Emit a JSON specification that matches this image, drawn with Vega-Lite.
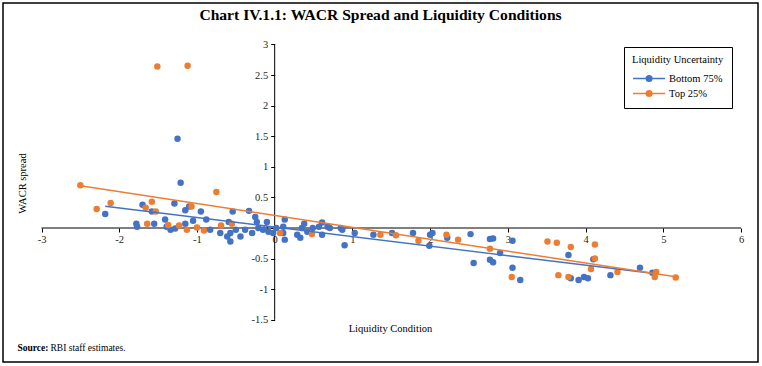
{
  "$schema": "https://vega.github.io/schema/vega-lite/v6.json",
  "width": 755,
  "height": 359,
  "autosize": {"type": "none"},
  "padding": {"left": 3, "top": 3, "right": 4, "bottom": 4},
  "background": "white",
  "title": {
    "text": "Chart IV.1.1: WACR Spread and Liquidity Conditions",
    "font": "Liberation Serif",
    "fontSize": 15.6,
    "fontWeight": "bold",
    "color": "#000",
    "anchor": "middle",
    "frame": "group",
    "offset": -21
  },
  "data": {
    "values": [
      {"series": "Bottom 75%", "lc": -2.18, "spread": 0.23},
      {"series": "Bottom 75%", "lc": -1.78, "spread": 0.07},
      {"series": "Bottom 75%", "lc": -1.77, "spread": 0.02},
      {"series": "Bottom 75%", "lc": -1.70, "spread": 0.38},
      {"series": "Bottom 75%", "lc": -1.58, "spread": 0.27},
      {"series": "Bottom 75%", "lc": -1.55, "spread": 0.07},
      {"series": "Bottom 75%", "lc": -1.41, "spread": 0.14},
      {"series": "Bottom 75%", "lc": -1.39, "spread": 0.02},
      {"series": "Bottom 75%", "lc": -1.34, "spread": -0.03},
      {"series": "Bottom 75%", "lc": -1.29, "spread": 0.40},
      {"series": "Bottom 75%", "lc": -1.28, "spread": -0.01},
      {"series": "Bottom 75%", "lc": -1.25, "spread": 1.46},
      {"series": "Bottom 75%", "lc": -1.21, "spread": 0.74},
      {"series": "Bottom 75%", "lc": -1.15, "spread": 0.29},
      {"series": "Bottom 75%", "lc": -1.15, "spread": 0.07},
      {"series": "Bottom 75%", "lc": -1.10, "spread": 0.35},
      {"series": "Bottom 75%", "lc": -1.05, "spread": 0.12},
      {"series": "Bottom 75%", "lc": -0.95, "spread": 0.27},
      {"series": "Bottom 75%", "lc": -0.88, "spread": 0.14},
      {"series": "Bottom 75%", "lc": -0.83, "spread": -0.03},
      {"series": "Bottom 75%", "lc": -0.70, "spread": -0.08},
      {"series": "Bottom 75%", "lc": -0.61, "spread": -0.14},
      {"series": "Bottom 75%", "lc": -0.59, "spread": 0.10},
      {"series": "Bottom 75%", "lc": -0.57, "spread": -0.22},
      {"series": "Bottom 75%", "lc": -0.57, "spread": -0.08},
      {"series": "Bottom 75%", "lc": -0.54, "spread": 0.27},
      {"series": "Bottom 75%", "lc": -0.50, "spread": -0.03},
      {"series": "Bottom 75%", "lc": -0.44, "spread": -0.14},
      {"series": "Bottom 75%", "lc": -0.38, "spread": -0.03},
      {"series": "Bottom 75%", "lc": -0.33, "spread": 0.28},
      {"series": "Bottom 75%", "lc": -0.29, "spread": -0.08},
      {"series": "Bottom 75%", "lc": -0.25, "spread": 0.18},
      {"series": "Bottom 75%", "lc": -0.23, "spread": 0.10},
      {"series": "Bottom 75%", "lc": -0.21, "spread": 0.0},
      {"series": "Bottom 75%", "lc": -0.15, "spread": -0.03},
      {"series": "Bottom 75%", "lc": -0.10, "spread": 0.10},
      {"series": "Bottom 75%", "lc": -0.08, "spread": -0.06},
      {"series": "Bottom 75%", "lc": -0.02, "spread": -0.08},
      {"series": "Bottom 75%", "lc": 0.02, "spread": 0.0},
      {"series": "Bottom 75%", "lc": 0.11, "spread": -0.08},
      {"series": "Bottom 75%", "lc": 0.11, "spread": 0.02},
      {"series": "Bottom 75%", "lc": 0.13, "spread": 0.14},
      {"series": "Bottom 75%", "lc": 0.13, "spread": -0.19},
      {"series": "Bottom 75%", "lc": 0.29, "spread": -0.11},
      {"series": "Bottom 75%", "lc": 0.33, "spread": -0.16},
      {"series": "Bottom 75%", "lc": 0.35, "spread": 0.0},
      {"series": "Bottom 75%", "lc": 0.38, "spread": 0.07},
      {"series": "Bottom 75%", "lc": 0.42, "spread": -0.06},
      {"series": "Bottom 75%", "lc": 0.49, "spread": 0.0},
      {"series": "Bottom 75%", "lc": 0.57, "spread": 0.02},
      {"series": "Bottom 75%", "lc": 0.61, "spread": 0.09},
      {"series": "Bottom 75%", "lc": 0.61, "spread": -0.11},
      {"series": "Bottom 75%", "lc": 0.68, "spread": 0.02},
      {"series": "Bottom 75%", "lc": 0.71, "spread": 0.0},
      {"series": "Bottom 75%", "lc": 0.85, "spread": 0.0},
      {"series": "Bottom 75%", "lc": 0.87, "spread": -0.03},
      {"series": "Bottom 75%", "lc": 0.90, "spread": -0.28},
      {"series": "Bottom 75%", "lc": 1.03, "spread": -0.08},
      {"series": "Bottom 75%", "lc": 1.27, "spread": -0.11},
      {"series": "Bottom 75%", "lc": 1.51, "spread": -0.08},
      {"series": "Bottom 75%", "lc": 1.78, "spread": -0.08},
      {"series": "Bottom 75%", "lc": 2.00, "spread": -0.11},
      {"series": "Bottom 75%", "lc": 2.03, "spread": -0.08},
      {"series": "Bottom 75%", "lc": 1.99, "spread": -0.29},
      {"series": "Bottom 75%", "lc": 2.22, "spread": -0.16},
      {"series": "Bottom 75%", "lc": 2.52, "spread": -0.10},
      {"series": "Bottom 75%", "lc": 2.56, "spread": -0.57},
      {"series": "Bottom 75%", "lc": 2.77, "spread": -0.18},
      {"series": "Bottom 75%", "lc": 2.81, "spread": -0.17},
      {"series": "Bottom 75%", "lc": 2.77, "spread": -0.52},
      {"series": "Bottom 75%", "lc": 2.81, "spread": -0.56},
      {"series": "Bottom 75%", "lc": 2.90, "spread": -0.41},
      {"series": "Bottom 75%", "lc": 3.06, "spread": -0.21},
      {"series": "Bottom 75%", "lc": 3.06, "spread": -0.65},
      {"series": "Bottom 75%", "lc": 3.16, "spread": -0.85},
      {"series": "Bottom 75%", "lc": 3.78, "spread": -0.44},
      {"series": "Bottom 75%", "lc": 3.81, "spread": -0.82},
      {"series": "Bottom 75%", "lc": 3.91, "spread": -0.85},
      {"series": "Bottom 75%", "lc": 3.98, "spread": -0.80},
      {"series": "Bottom 75%", "lc": 4.03, "spread": -0.82},
      {"series": "Bottom 75%", "lc": 4.10, "spread": -0.51},
      {"series": "Bottom 75%", "lc": 4.32, "spread": -0.77},
      {"series": "Bottom 75%", "lc": 4.70, "spread": -0.65},
      {"series": "Bottom 75%", "lc": 4.86, "spread": -0.73},
      {"series": "Top 25%", "lc": -2.50, "spread": 0.70},
      {"series": "Top 25%", "lc": -2.29, "spread": 0.31},
      {"series": "Top 25%", "lc": -2.11, "spread": 0.41},
      {"series": "Top 25%", "lc": -1.66, "spread": 0.33},
      {"series": "Top 25%", "lc": -1.64, "spread": 0.07},
      {"series": "Top 25%", "lc": -1.58, "spread": 0.43},
      {"series": "Top 25%", "lc": -1.53, "spread": 0.27},
      {"series": "Top 25%", "lc": -1.51, "spread": 2.64},
      {"series": "Top 25%", "lc": -1.37, "spread": 0.05},
      {"series": "Top 25%", "lc": -1.23, "spread": 0.04},
      {"series": "Top 25%", "lc": -1.13, "spread": -0.03},
      {"series": "Top 25%", "lc": -1.12, "spread": 2.65},
      {"series": "Top 25%", "lc": -1.07, "spread": 0.35},
      {"series": "Top 25%", "lc": -1.00, "spread": 0.01},
      {"series": "Top 25%", "lc": -0.91, "spread": -0.04},
      {"series": "Top 25%", "lc": -0.75, "spread": 0.59},
      {"series": "Top 25%", "lc": -0.69, "spread": 0.04},
      {"series": "Top 25%", "lc": -0.55, "spread": 0.07},
      {"series": "Top 25%", "lc": 0.07, "spread": -0.08},
      {"series": "Top 25%", "lc": 0.48, "spread": -0.10},
      {"series": "Top 25%", "lc": 1.36, "spread": -0.11},
      {"series": "Top 25%", "lc": 1.56, "spread": -0.12},
      {"series": "Top 25%", "lc": 1.85, "spread": -0.21},
      {"series": "Top 25%", "lc": 2.21, "spread": -0.11},
      {"series": "Top 25%", "lc": 2.36, "spread": -0.19},
      {"series": "Top 25%", "lc": 2.77, "spread": -0.34},
      {"series": "Top 25%", "lc": 3.05, "spread": -0.80},
      {"series": "Top 25%", "lc": 3.51, "spread": -0.22},
      {"series": "Top 25%", "lc": 3.63, "spread": -0.24},
      {"series": "Top 25%", "lc": 3.65, "spread": -0.77},
      {"series": "Top 25%", "lc": 3.78, "spread": -0.80},
      {"series": "Top 25%", "lc": 3.81, "spread": -0.31},
      {"series": "Top 25%", "lc": 4.07, "spread": -0.67},
      {"series": "Top 25%", "lc": 4.12, "spread": -0.27},
      {"series": "Top 25%", "lc": 4.12, "spread": -0.50},
      {"series": "Top 25%", "lc": 4.41, "spread": -0.72},
      {"series": "Top 25%", "lc": 4.89, "spread": -0.80},
      {"series": "Top 25%", "lc": 4.91, "spread": -0.72},
      {"series": "Top 25%", "lc": 5.16, "spread": -0.81}
    ]
  },
  "layer": [
    {
      "data": {"values": [{}]},
      "mark": {"type": "rule", "color": "#000", "strokeWidth": 1},
      "encoding": {
        "x": {
          "datum": -3, "type": "quantitative",
          "scale": {"domain": [-3.4954, 6.2187], "nice": false, "zero": false},
          "axis": {"orient": "top", "labels": false, "ticks": false, "domain": false, "grid": false,
            "title": "Source:", "titleFontWeight": "bold", "titleFontSize": 9.5, "titleColor": "#000",
            "titleX": 14, "titleY": 344, "titleAlign": "left", "titleBaseline": "middle", "titleAngle": 0}
        },
        "x2": {"datum": 6},
        "y": {
          "datum": 0, "type": "quantitative",
          "scale": {"domain": [-2.1895, 3.6765], "nice": false, "zero": false},
          "axis": {"orient": "right", "labels": false, "ticks": false, "domain": false, "grid": false,
            "title": "RBI staff estimates.", "titleFontWeight": "normal", "titleFontSize": 9.5, "titleColor": "#000",
            "titleX": -708, "titleY": 344, "titleAlign": "left", "titleBaseline": "middle", "titleAngle": 0}
        }
      }
    },
    {
      "data": {"values": [{}]},
      "mark": {"type": "rule", "color": "#000", "strokeWidth": 1},
      "encoding": {
        "x": {"datum": 0, "type": "quantitative", "scale": {"domain": [-3.4954, 6.2187], "nice": false, "zero": false}, "axis": null},
        "y": {"datum": -1.5, "type": "quantitative", "scale": {"domain": [-2.1895, 3.6765], "nice": false, "zero": false}, "axis": null},
        "y2": {"datum": 3}
      }
    },
    {
      "mark": {"type": "circle", "size": 42, "opacity": 1},
      "encoding": {
        "x": {
          "field": "lc", "type": "quantitative",
          "scale": {"domain": [-3.4954, 6.2187], "nice": false, "zero": false},
          "axis": {"orient": "bottom", "offset": -134, "values": [-3, -2, -1, 0, 1, 2, 3, 4, 5, 6],
            "labelExpr": "'' + datum.value", "domain": false, "grid": false, "tickSize": 4, "tickColor": "#000",
            "labelPadding": 2, "labelFlush": false, "labelOverlap": false,
            "title": "Liquidity Condition", "titleX": 387, "titleY": 100, "titleAlign": "center", "titleBaseline": "middle"}
        },
        "y": {
          "field": "spread", "type": "quantitative",
          "scale": {"domain": [-2.1895, 3.6765], "nice": false, "zero": false},
          "axis": {"orient": "left", "offset": -271.7, "values": [-1.5, -1, -0.5, 0, 0.5, 1, 1.5, 2, 2.5, 3],
            "labelExpr": "'' + datum.value", "domain": false, "grid": false, "tickSize": 4, "tickColor": "#000",
            "labelPadding": 3, "labelFlush": false, "labelOverlap": false,
            "title": "WACR spread", "titleX": -252.7, "titleY": 180, "titleAngle": -90, "titleAlign": "center", "titleBaseline": "middle"}
        },
        "color": {
          "field": "series", "type": "nominal",
          "scale": {"domain": ["Bottom 75%", "Top 25%"], "range": ["#4472C4", "#ED7D31"]},
          "legend": {
            "title": "Liquidity Uncertainty",
            "orient": "none", "legendX": 621, "legendY": 44,
            "strokeColor": "#000", "padding": 8, "fillColor": "white",
            "titleFontWeight": "normal", "titleFontSize": 10.5, "titleColor": "#000", "titlePadding": 5,
            "labelFontSize": 10.5, "labelColor": "#000", "labelOffset": 21,
            "symbolType": "M-1,0H3.6M0.9,0A0.4,0.4,0,1,1,1.7,0A0.4,0.4,0,1,1,0.9,0Z",
            "symbolSize": 196, "symbolStrokeWidth": 1.5, "rowPadding": 1
          }
        }
      }
    },
    {
      "transform": [{"regression": "spread", "on": "lc", "groupby": ["series"]}],
      "mark": {"type": "line", "strokeWidth": 1.5},
      "encoding": {
        "x": {"field": "lc", "type": "quantitative", "scale": {"domain": [-3.4954, 6.2187], "nice": false, "zero": false}, "axis": null},
        "y": {"field": "spread", "type": "quantitative", "scale": {"domain": [-2.1895, 3.6765], "nice": false, "zero": false}, "axis": null},
        "color": {
          "field": "series", "type": "nominal",
          "scale": {"domain": ["Bottom 75%", "Top 25%"], "range": ["#4472C4", "#ED7D31"]}
        }
      }
    }
  ],
  "resolve": {"axis": {"x": "independent", "y": "independent"}},
  "config": {
    "font": "Liberation Serif",
    "view": {"stroke": "#000", "strokeWidth": 1.5},
    "axis": {"labelFont": "Liberation Serif", "labelFontSize": 10.5, "labelColor": "#262626", "titleFont": "Liberation Serif", "titleFontSize": 10.5, "titleFontWeight": "normal", "titleColor": "#000"},
    "legend": {"labelFont": "Liberation Serif", "titleFont": "Liberation Serif"}
  }
}
